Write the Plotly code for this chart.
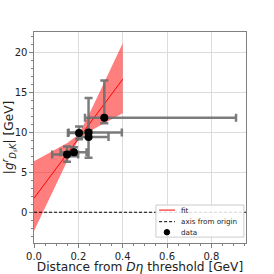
import plotly.graph_objects as go

# data points
x_vals = [0.149, 0.180, 0.203, 0.246, 0.246, 0.317]
y_vals = [7.2, 7.5, 9.9, 9.95, 9.4, 11.8]
x_err_minus = [0.067, 0.060, 0.050, 0.090, 0.050, 0.087]
x_err_plus = [0.050, 0.057, 0.040, 0.150, 0.090, 0.594]
y_err_minus = [0.9, 0.5, 0.8, 0.6, 2.6, 0.7]
y_err_plus = [1.0, 0.6, 0.8, 4.3, 0.8, 4.65]

# fit line and band
fit_x = [0.0, 0.4]
fit_y = [1.75, 16.6]
band_x = [0.0, 0.05, 0.1, 0.15, 0.2, 0.25, 0.3, 0.35, 0.4]
band_upper = [6.35, 7.11, 7.87, 8.65, 9.66, 12.33, 15.23, 18.15, 21.1]
band_lower = [-2.35, 0.57, 3.49, 6.39, 9.06, 10.07, 10.85, 11.61, 12.35]

X_RANGE = [0.0, 0.956]
Y_RANGE = [-3.84, 22.5]
origin_y = 0.0

x_ticks = [0.0, 0.2, 0.4, 0.6, 0.8]
x_tick_labels = ["0.0", "0.2", "0.4", "0.6", "0.8"]
y_ticks = [0, 5, 10, 15, 20]

legend_labels = ["fit", "axis from origin", "data"]

FONT = "DejaVu Sans"
ERR_COLOR = "rgba(110,110,110,0.9)"

fig = go.Figure()
fig.add_trace(go.Scatter(x=band_x, y=band_lower, mode="lines", line=dict(width=0),
                         showlegend=False, hoverinfo="skip"))
fig.add_trace(go.Scatter(x=band_x, y=band_upper, mode="lines", line=dict(width=0),
                         fill="tonexty", fillcolor="rgba(255,0,0,0.5)",
                         showlegend=False, hoverinfo="skip"))
fig.add_trace(go.Scatter(x=fit_x, y=fit_y, mode="lines", name=legend_labels[0],
                         line=dict(color="red", width=1), showlegend=False))
fig.add_trace(go.Scatter(x=X_RANGE, y=[origin_y, origin_y], mode="lines",
                         name=legend_labels[1], showlegend=False,
                         line=dict(color="black", width=1, dash="3px,2px")))
fig.add_trace(go.Scatter(
    x=x_vals, y=y_vals, mode="markers", name=legend_labels[2], showlegend=False,
    marker=dict(color="black", size=8),
    error_x=dict(type="data", symmetric=False, array=x_err_plus, arrayminus=x_err_minus,
                 color=ERR_COLOR, thickness=2.5, width=4),
    error_y=dict(type="data", symmetric=False, array=y_err_plus, arrayminus=y_err_minus,
                 color=ERR_COLOR, thickness=2.5, width=4),
))

# custom compact legend (paper coordinates)
lx0, lx1, ly0, ly1 = 0.575, 0.99, 0.028, 0.18
fig.add_shape(type="rect", xref="paper", yref="paper", x0=lx0, x1=lx1, y0=ly0, y1=ly1,
              fillcolor="rgba(255,255,255,0.85)", line=dict(color="#cccccc", width=1), layer="above")
rows = [0.156, 0.101, 0.051]
fig.add_shape(type="line", xref="paper", yref="paper", x0=0.59, x1=0.665, y0=rows[0], y1=rows[0],
              line=dict(color="red", width=1), layer="above")
fig.add_shape(type="line", xref="paper", yref="paper", x0=0.59, x1=0.665, y0=rows[1], y1=rows[1],
              line=dict(color="black", width=1, dash="3px,2px"), layer="above")
cx, cy, r = 0.627, rows[2], 0.013
fig.add_shape(type="circle", xref="paper", yref="paper", x0=cx - r, x1=cx + r, y0=cy - r, y1=cy + r,
              fillcolor="black", line=dict(color="black", width=1), layer="above")
for lab, ry in zip(legend_labels, rows):
    fig.add_annotation(xref="paper", yref="paper", x=0.686, y=ry, text=lab, showarrow=False,
                       xanchor="left", yanchor="middle",
                       font=dict(family=FONT, size=7.2, color="#222"))

axis_common = dict(
    showline=True, linecolor="#808080", linewidth=1.2, mirror=True,
    showgrid=True, gridcolor="#dcdcdc", gridwidth=1,
    zeroline=False, ticks="outside", ticklen=3.5, tickcolor="#808080",
    tickfont=dict(family=FONT, size=10, color="#222"),
    automargin=False,
)

fig.update_layout(
    width=274, height=274,
    margin=dict(l=34, r=28, t=32, b=31),
    paper_bgcolor="white", plot_bgcolor="white",
    font=dict(family=FONT, color="#222"),
    xaxis=dict(range=X_RANGE, tickvals=x_ticks, ticktext=x_tick_labels,
               title=dict(text="Distance from <i>D\u03b7</i> threshold [GeV]",
                          font=dict(family=FONT, size=12.2), standoff=1),
               minor=dict(dtick=0.05, ticks="outside", ticklen=2, tickcolor="#808080", showgrid=False),
               **axis_common),
    yaxis=dict(range=Y_RANGE, tickvals=y_ticks,
               title=dict(text="|<i>g</i><sup><i>r</i></sup><sub><i>D<sub>s</sub>K</i></sub>| [GeV]",
                          font=dict(family=FONT, size=12.2), standoff=2),
               minor=dict(dtick=1, ticks="outside", ticklen=2, tickcolor="#808080", showgrid=False),
               **axis_common),
    showlegend=False,
)

fig.write_html("out.html", config={"displayModeBar": False},
               post_script="document.body.style.margin='0';")
